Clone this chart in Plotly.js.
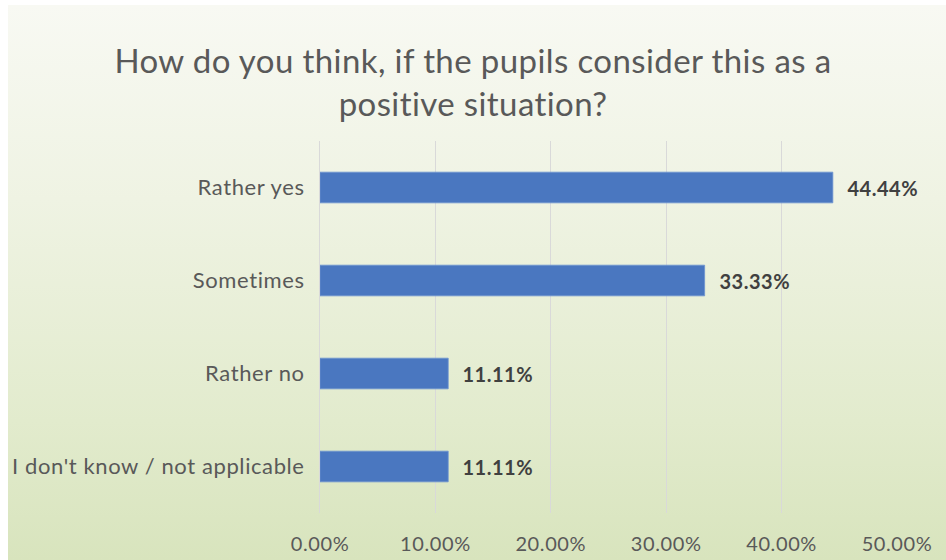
<!DOCTYPE html>
<html>
<head>
<meta charset="utf-8">
<script src="https://cdn.plot.ly/plotly-3.0.1.min.js"></script>
<style>
  html, body { margin: 0; padding: 0; background: #ffffff; }
  #wrap { position: absolute; left: 0; top: 0; width: 946px; height: 560px; background: #ffffff; }
  #bg { position: absolute; left: 8px; top: 5px; width: 938px; height: 555px;
        background: linear-gradient(to bottom, #f8f9f3 0%, #eff3e3 35%, #e2ebcd 75%, #d8e4bd 100%); }
  #chart { position: absolute; left: 0; top: 0; width: 946px; height: 560px; }
  #chart .ytick text { letter-spacing: 0.6px; }
  #chart .xtick text { letter-spacing: 0.6px; }
  #chart .annotation-text { letter-spacing: 0.5px; }
  #chart .gtitle { letter-spacing: 0.4px; }
</style>
</head>
<body>
<div id="wrap"><div id="bg"></div><div id="chart"></div></div>
<script>
const categories = ["I don't know / not applicable", "Rather no", "Sometimes", "Rather yes"];
const values = [0.1111, 0.1111, 0.3333, 0.4444];
const valueLabels = ["11.11%", "11.11%", "33.33%", "44.44%"];
const tickValues = [0, 0.1, 0.2, 0.3, 0.4, 0.5];
const tickLabels = ["0.00%", "10.00%", "20.00%", "30.00%", "40.00%", "50.00%"];

const FONT = 'Lato, "Open Sans", sans-serif';

const trace = {
  type: 'bar',
  orientation: 'h',
  x: values,
  y: categories,
  width: 0.33,
  marker: { color: '#4a77c0', line: { color: '#6c93d0', width: 0.8 } },
  hoverinfo: 'skip'
};

const annotations = values.map((v, i) => ({
  x: v, y: categories[i], xref: 'x', yref: 'y',
  text: '<b>' + valueLabels[i] + '</b>',
  showarrow: false, xanchor: 'left', yanchor: 'middle', xshift: 14,
  font: { family: FONT, size: 20, color: '#404040' }
}));

const layout = {
  width: 946, height: 560,
  paper_bgcolor: 'rgba(0,0,0,0)',
  plot_bgcolor: 'rgba(0,0,0,0)',
  margin: { l: 320, r: 49, t: 141, b: 47 },
  showlegend: false,
  annotations: annotations,
  title: {
    text: 'How do you think, if the pupils consider this as a<br>positive situation?',
    font: { family: FONT, size: 33, color: '#595959' },
    x: 0.5, xanchor: 'center', y: 0.87, yanchor: 'top'
  },
  xaxis: {
    range: [0, 0.5],
    tickvals: tickValues,
    ticktext: tickLabels,
    showgrid: true,
    gridcolor: '#d9d9d9',
    gridwidth: 1,
    zeroline: false,
    showline: false,
    ticks: '',
    ticklabelstandoff: 17,
    tickfont: { family: FONT, size: 20, color: '#595959' },
    fixedrange: true
  },
  yaxis: {
    type: 'category',
    categoryorder: 'array',
    categoryarray: categories,
    showgrid: false,
    zeroline: false,
    showline: true,
    linecolor: '#d9d9d9',
    ticks: '',
    ticklabelstandoff: 10,
    tickfont: { family: FONT, size: 22, color: '#595959' },
    fixedrange: true
  }
};

Plotly.newPlot('chart', [trace], layout, { displayModeBar: false, staticPlot: true });
</script>
</body>
</html>
